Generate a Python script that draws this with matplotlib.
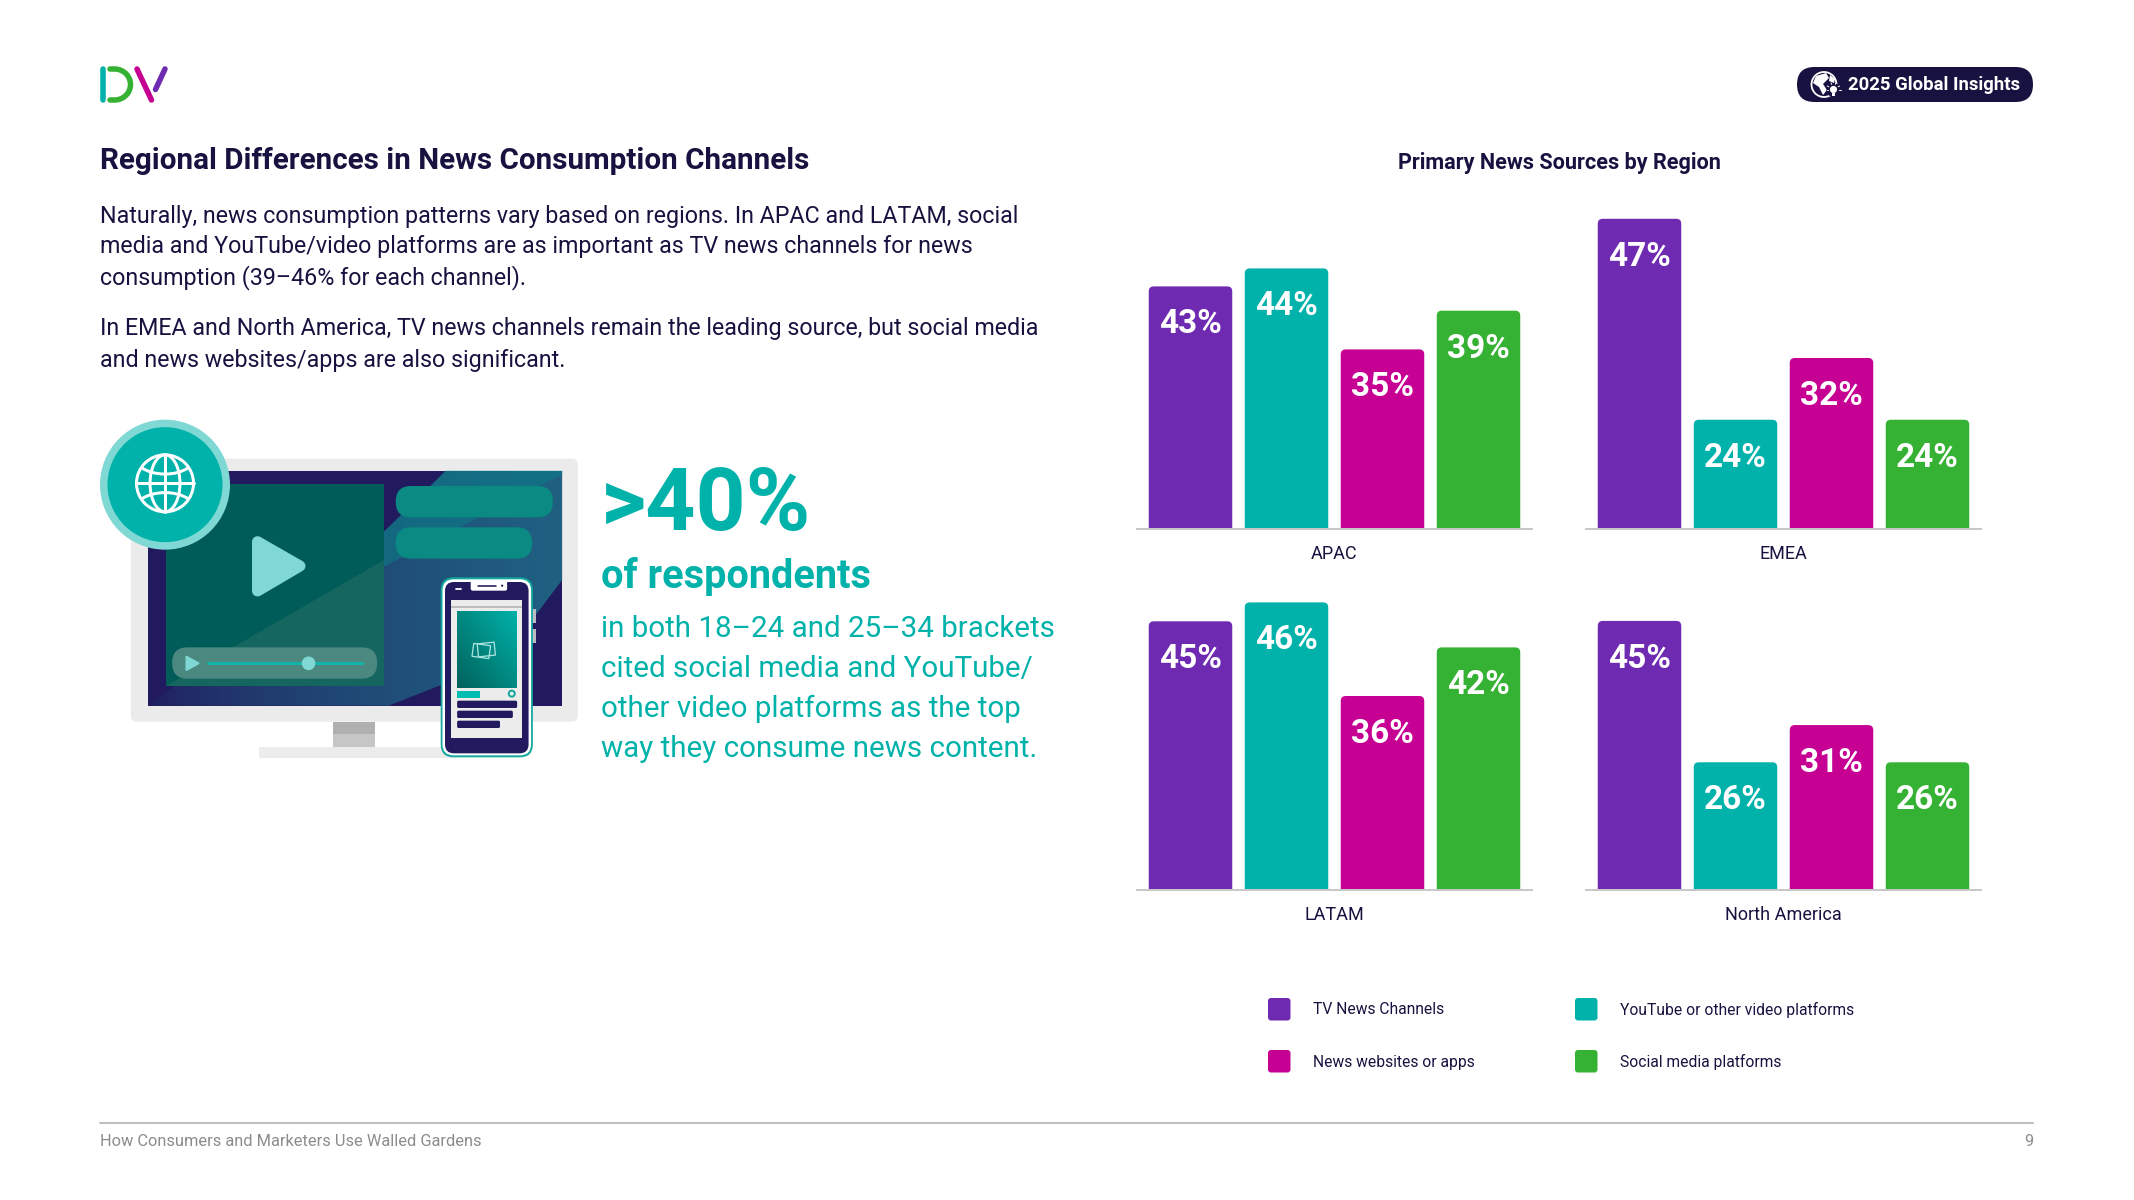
import matplotlib
matplotlib.use('Agg')
import matplotlib.pyplot as plt
import numpy as np
from matplotlib.colors import LinearSegmentedColormap
from matplotlib.patches import Circle, Ellipse, FancyBboxPatch, Polygon, Rectangle
from matplotlib.path import Path
from matplotlib.patches import PathPatch

plt.rcParams['font.family'] = ['Roboto', 'DejaVu Sans']

# Data
regions = ['APAC', 'EMEA', 'LATAM', 'North America']
series = ['TV News Channels', 'YouTube or other video platforms', 'News websites or apps', 'Social media platforms']
apac_labels = [43, 44, 35, 39]
emea_labels = [47, 24, 32, 24]
latam_labels = [45, 46, 36, 42]
na_labels = [45, 26, 31, 26]
# bar heights as drawn (the source chart is not quite in step with its rounded labels)
apac_values = [42.3, 44.3, 35.3, 39.6]
emea_values = [47.1, 24.0, 31.1, 24.0]
latam_values = [44.2, 46.3, 35.9, 41.3]
na_values = [45.0, 26.0, 31.0, 26.0]

title = 'Regional Differences in News Consumption Channels'
body_lines = [
    'Naturally, news consumption patterns vary based on regions. In APAC and LATAM, social',
    'media and YouTube/video platforms are as important as TV news channels for news',
    'consumption (39–46% for each channel).',
    'In EMEA and North America, TV news channels remain the leading source, but social media',
    'and news websites/apps are also significant.',
]
callout_lines = [
    'in both 18–24 and 25–34 brackets',
    'cited social media and YouTube/',
    'other video platforms as the top',
    'way they consume news content.',
]

NAVY = '#17123f'
PURPLE = '#6e2ab1'
TEAL = '#00b2a9'
MAGENTA = '#c70094'
GREEN = '#35b234'
LIGHT_TEAL = '#80d8d4'
SCREEN = '#211a5e'
colors = [PURPLE, TEAL, MAGENTA, GREEN]

W, H = 2134, 1200
fig = plt.figure(figsize=(W / 100, H / 100), dpi=100, facecolor='white')

# page layer in pixel coordinates
bg = fig.add_axes([0, 0, 1, 1], zorder=0)
bg.axis('off')


def px(v):
    return v * 0.72


def zx(v):
    return 60 + v / 2.8


def zy(v):
    return 400 + v / 3


def zpts(pts):
    return [(zx(x), zy(y)) for x, y in pts]


def txt(x, y, s, size, weight='normal', color=NAVY, ha='left'):
    bg.text(x, y, s, fontsize=size, fontweight=weight, color=color, ha=ha, va='center')


def rbox(x0, y0, x1, y1, r, color, z=2, **kw):
    p = FancyBboxPatch((x0 + r, y0 + r), x1 - x0 - 2 * r, y1 - y0 - 2 * r,
                       boxstyle=f'round,pad={r},rounding_size={r}', fc=color, ec='none', zorder=z, **kw)
    bg.add_patch(p)
    return p


def stroke(pts, color, lw, z=5):
    xs, ys = zip(*pts)
    bg.plot(xs, ys, color=color, lw=px(lw), solid_capstyle='round', solid_joinstyle='round', zorder=z)


def gradient(x0, y0, x1, y1, img, c0, c1, clip, z):
    cm = LinearSegmentedColormap.from_list('g', [c0, c1])
    im = bg.imshow(img, extent=(x0, x1, y1, y0), aspect='auto', cmap=cm, vmin=0, vmax=1, zorder=z)
    im.set_clip_path(clip)


# logo
stroke([(102.5, 69), (102.5, 100)], TEAL, 5.5)
t = np.linspace(-np.pi / 2, np.pi / 2, 40)
stroke([(110, 69)] + list(zip(114.5 + 16 * np.cos(t), 84.5 + 15.5 * np.sin(t))) + [(110, 100)], GREEN, 5.5)
stroke([(137, 69), (151.5, 100)], MAGENTA, 5.5)
stroke([(165, 69), (155.5, 89.5)], PURPLE, 5.5)

# badge
rbox(1797, 67, 2033, 102, 17.5, NAVY)
txt(1848, 84.5, '2025 Global Insights', 13.3, 'bold', 'white')
bg.add_patch(Circle((1824, 84.5), 12.5, fc='none', ec='white', lw=px(1.8), zorder=3))
bg.add_patch(Polygon([(1816, 76), (1826, 73), (1829, 78), (1823, 84), (1827, 90), (1823, 95), (1819, 87), (1813, 83)],
                     fc='white', ec='none', zorder=3))
bg.add_patch(Polygon([(1830, 75), (1835, 79), (1834, 83), (1829, 81)], fc='white', ec='none', zorder=3))
bg.add_patch(Circle((1833.5, 90), 7, fc=NAVY, ec='none', zorder=4))
bg.add_patch(Circle((1833.5, 89.5), 3.6, fc='white', ec='none', zorder=5))
bg.add_patch(Rectangle((1831.8, 93), 3.4, 3, fc='white', ec='none', zorder=5))
for a in [-150, -110, -70, -30, 0, 180]:
    c, s = np.cos(np.radians(a)), np.sin(np.radians(a))
    stroke([(1833.5 + 5.5 * c, 89.5 + 5.5 * s), (1833.5 + 7 * c, 89.5 + 7 * s)], 'white', 1, z=5)

# left text
txt(100, 161, title, 21.3, 'bold')
for y, line in zip([216, 247, 278, 329, 361], body_lines):
    txt(100, y, line, 16.75)
txt(601, 506, '>40%', 63, 'bold', TEAL)
txt(601, 576, 'of respondents', 28.6, 'bold', TEAL)
for y, line in zip([629, 669, 709, 749], callout_lines):
    txt(601, y, line, 21.25, color=TEAL)

# monitor
rbox(zx(198), zy(176), zx(1450), zy(965), 6, '#ebebeb', z=1)
screen = Rectangle((zx(246), zy(212)), zx(1406) - zx(246), zy(917) - zy(212), fc=SCREEN, ec='none', zorder=2)
bg.add_patch(screen)
band = Polygon(zpts([(1080, 212), (1000, 300), (907, 395), (700, 560), (246, 917), (920, 917), (1150, 820),
                     (1300, 690), (1406, 540), (1406, 212)]), fc='none', ec='none', zorder=2)
bg.add_patch(band)
gradient(zx(246), zy(212), zx(1406), zy(917), np.linspace(0, 1, 200).reshape(1, -1) ** 0.6,
         SCREEN, '#1f6182', band, 3)
top_band = Polygon(zpts([(1080, 212), (1406, 212), (1406, 222), (907, 500), (907, 395)]),
                   fc='#0a7f88', ec='none', alpha=0.55, zorder=4)
bg.add_patch(top_band)
# video panel
bg.add_patch(Rectangle((zx(297), zy(252)), zx(907) - zx(297), zy(858) - zy(252), fc='#005c58', ec='none', zorder=5))
bg.add_patch(Polygon(zpts([(297, 858), (907, 480), (907, 858)]), fc='#14665f', ec='none', zorder=5))
bg.add_patch(Polygon(zpts([(553, 425), (672, 498), (553, 573)]), fc=LIGHT_TEAL, ec=LIGHT_TEAL, lw=px(11),
                     joinstyle='round', zorder=6))
rbox(zx(314), zy(742), zx(888), zy(836), 15.5, '#4b8880', z=6)
bg.add_patch(Polygon(zpts([(354, 770), (388, 790), (354, 810)]), fc=LIGHT_TEAL, ec=LIGHT_TEAL, lw=px(2),
                     joinstyle='round', zorder=7))
stroke(zpts([(415, 790), (846, 790)]), '#10b5a8', 3, z=7)
bg.add_patch(Circle((zx(696), zy(790)), 6.8, fc=LIGHT_TEAL, ec='none', zorder=8))
rbox(zx(940), zy(258), zx(1380), zy(352), 15.5, '#0a8a82', z=6)
rbox(zx(940), zy(382), zx(1322), zy(476), 15.5, '#0a8a82', z=6)
# stand
bg.add_patch(Rectangle((zx(557), zy(1040)), zx(1100) - zx(557), zy(1074) - zy(1040), fc='#ececec', ec='none', zorder=1))
bg.add_patch(Rectangle((zx(764), zy(1002)), zx(882) - zx(764), zy(1040) - zy(1002), fc='#c6c6c6', ec='none', zorder=1))
bg.add_patch(Rectangle((zx(764), zy(966)), zx(882) - zx(764), zy(1002) - zy(966), fc='#b0b0b0', ec='none', zorder=1))

# globe badge
gx, gy = zx(294), zy(254)
bg.add_patch(Circle((gx, gy), 65, fc=LIGHT_TEAL, ec='none', zorder=10))
bg.add_patch(Circle((gx, gy), 57.5, fc=TEAL, ec='none', zorder=11))
gy = zy(250)
gr = 28.5
bg.add_patch(Circle((gx, gy), gr, fc='none', ec='white', lw=px(3), zorder=12))
bg.add_patch(Ellipse((gx, gy), gr * 1.05, gr * 2, fc='none', ec='white', lw=px(3), zorder=12))
stroke([(gx, gy - gr), (gx, gy + gr)], 'white', 3, z=12)
stroke([(gx - gr, gy), (gx + gr, gy)], 'white', 3, z=12)
for sgn in [-1, 1]:
    verts = [(gx - gr * 0.82, gy + sgn * gr * 0.55), (gx - gr * 0.4, gy + sgn * gr * 0.25),
             (gx + gr * 0.4, gy + sgn * gr * 0.25), (gx + gr * 0.82, gy + sgn * gr * 0.55)]
    bg.add_patch(PathPatch(Path(verts, [Path.MOVETO, Path.CURVE4, Path.CURVE4, Path.CURVE4]), fc='none', ec='white',
                           lw=px(3), zorder=12))

# phone
for yb0, yb1 in [(628, 668), (688, 728)]:
    bg.add_patch(Rectangle((zx(1322), zy(yb0)), 4, zy(yb1) - zy(yb0), fc='#b9bcc4', ec='none', zorder=13))
rbox(zx(1066), zy(532), zx(1324), zy(1072), 13, '#14a89f', z=14)
rbox(zx(1071), zy(538), zx(1319), zy(1066), 11, 'white', z=14)
rbox(zx(1078), zy(546), zx(1312), zy(1060), 9, SCREEN, z=14)
rbox(zx(1150), zy(540), zx(1252), zy(572), 2, 'white', z=15)
stroke(zpts([(1170, 557), (1222, 557)]), SCREEN, 1.6, z=16)
bg.add_patch(Circle((zx(1238), zy(557)), 1.1, fc=SCREEN, ec='none', zorder=16))
stroke(zpts([(1110, 567), (1124, 567)]), 'white', 1.8, z=16)
bg.add_patch(Rectangle((zx(1096), zy(600)), zx(1294) - zx(1096), zy(1014) - zy(600), fc='#ececec', ec='none', zorder=15))
bg.add_patch(Rectangle((zx(1096), zy(618)), zx(1294) - zx(1096), 2, fc='#bdbdbd', ec='none', zorder=15))
img_clip = Rectangle((zx(1112), zy(632)), zx(1280) - zx(1112), zy(864) - zy(632), fc='none', ec='none', zorder=15)
bg.add_patch(img_clip)
gx2, gy2 = np.meshgrid(np.linspace(0, 1, 60), np.linspace(0, 1, 60))
gradient(zx(1112), zy(632), zx(1280), zy(864), (gx2 + 1 - gy2) / 2, '#00625c', TEAL, img_clip, 16)
for off, ang in [(-5, 8), (0, -6)]:
    icon = Rectangle((zx(1195) - 9 + off, zy(750) - 7 + off * -0.3), 17, 13, fc='none', ec='#a8e4df', lw=px(1.3), zorder=17,
                     angle=ang, rotation_point='center')
    bg.add_patch(icon)
bg.add_patch(Rectangle((zx(1112), zy(874)), zx(1176) - zx(1112), zy(894) - zy(874), fc='#00bdb2', ec='none', zorder=16))
bg.add_patch(Circle((zx(1265), zy(881)), 3, fc='none', ec='#14a89f', lw=px(2), zorder=16))
for x1, y0, y1 in [(1280, 902, 924), (1268, 932, 954), (1232, 962, 984)]:
    rbox(zx(1112), zy(y0), zx(x1), zy(y1), 1.5, SCREEN, z=16)

# chart title and legend
txt(1559, 163, 'Primary News Sources by Region', 15.6, 'bold', ha='center')
legend_pos = [(1268, 1009), (1575, 1009), (1268, 1061), (1575, 1061)]
for (x, y), name, col in zip(legend_pos, series, colors):
    rbox(x, y - 11, x + 22.5, y + 11.5, 3, col)
    txt(x + 45, y + 1, name, 11.25)

# footer
bg.plot([100, 2033], [1122.5, 1122.5], color='#b0b0b0', lw=px(1.6), zorder=1)
txt(100, 1142, 'How Consumers and Marketers Use Walled Gardens', 11.8, 'normal', '#8c8c8c')
txt(2033, 1142, '9', 11.8, 'normal', '#8c8c8c', ha='right')

bg.set_xlim(0, W)
bg.set_ylim(H, 0)

# the four bar panels, each with its own truncated scale: left px, baseline px, y origin, px per point
panels = [
    (regions[0], apac_values, apac_labels, 1137, 528.5, 15.4, 9.0),
    (regions[1], emea_values, emea_labels, 1586, 528.5, 11.5, 8.7),
    (regions[2], latam_values, latam_labels, 1137, 889.5, 14.4, 9.0),
    (regions[3], na_values, na_labels, 1586, 889.5, 8.9, 7.44),
]
PANEL_W, PANEL_H, STEP = 395, 330, 96
x = np.arange(4)
for region, values, labels, left, base, y0, scale in panels:
    ax = fig.add_axes([left / W, 1 - base / H, PANEL_W / W, PANEL_H / H], zorder=2, facecolor='none')
    bars = ax.bar(x, values, width=83.5 / STEP, color=colors)
    ax.set_xlim(-53.5 / STEP, -53.5 / STEP + PANEL_W / STEP)
    ax.set_ylim(y0, y0 + PANEL_H / scale)
    # round the top corners of each bar, the square bottoms fall outside the axes
    for rect, col, lab, val in zip(bars, colors, labels, values):
        rect.set_visible(False)
        ax.add_patch(FancyBboxPatch((rect.get_x(), 0), rect.get_width(), val,
                                    boxstyle=f'round,pad=0,rounding_size={5 / STEP}',
                                    mutation_aspect=STEP / scale, fc=col, ec='none', clip_on=True))
        ax.annotate(f'{lab}%', (rect.get_x() + rect.get_width() / 2, val), xytext=(0, -px(38)),
                    textcoords='offset points', ha='center', va='center', color='white',
                    fontsize=24, fontweight='bold')
    for side in ['top', 'left', 'right']:
        ax.spines[side].set_visible(False)
    ax.spines['bottom'].set_color('#c8c8c8')
    ax.spines['bottom'].set_linewidth(px(2))
    ax.set_yticks([])
    ax.set_xticks([])
    ax.set_xlabel(region, fontsize=13, color=NAVY, labelpad=12)

fig.savefig('out.png', dpi=100)
